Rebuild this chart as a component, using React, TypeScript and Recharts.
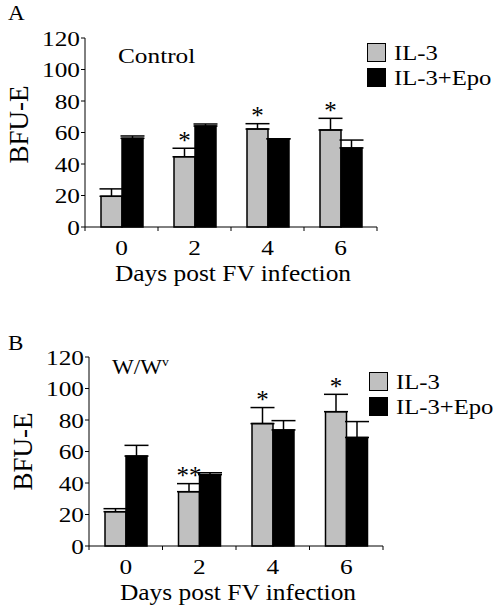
import React from 'react';
import { BarChart, Bar, XAxis, YAxis, ErrorBar, LabelList, Legend } from 'recharts';

const days = ['0', '2', '4', '6'];
const yTicks = [0, 20, 40, 60, 80, 100, 120];

// panel A - control mice
const il3A = [19.5, 44.6, 62.2, 61.6];
const il3ErrA = [4.7, 5.4, 3.4, 7.4];
const epoA = [56.3, 64.1, 56.0, 50.2];
const epoErrA = [1.5, 1.3, 0, 5.0];
const starsA = ['', '*', '*', '*'];

// panel B - W/Wv mice
const il3B = [21.8, 34.5, 77.7, 85.3];
const il3ErrB = [1.9, 5.1, 10.2, 11.0];
const epoB = [57.1, 45.3, 73.7, 68.9];
const epoErrB = [6.8, 1.2, 5.9, 10.1];
const starsB = ['', '**', '*', '*'];

const FONT = "'Liberation Serif', 'Times New Roman', serif";
const GREY = '#c0c0c0';

const build = (il3: number[], il3Err: number[], epo: number[], epoErr: number[], stars: string[]) =>
  days.map((d, i) => ({
    day: d,
    il3: il3[i],
    il3Err: [0, il3Err[i]],
    epo: epo[i],
    epoErr: [0, epoErr[i]],
    star: stars[i],
  }));

const dataA = build(il3A, il3ErrA, epoA, epoErrA, starsA);
const dataB = build(il3B, il3ErrB, epoB, epoErrB, starsB);

const SText: React.FC<any> = ({ x, y, size = 22, sx = 1.15, anchor = 'middle', children }) => (
  <g transform={`translate(${x},${y}) scale(${sx},1)`}>
    <text x={0} y={0} textAnchor={anchor} fontSize={size} fontFamily={FONT} fill="#000">
      {children}
    </text>
  </g>
);

const DayTick: React.FC<any> = ({ x, y, payload, index, visibleTicksCount }) => {
  const half = payload && payload.offset ? payload.offset : 36;
  const last = index === visibleTicksCount - 1;
  return (
    <g>
      <line x1={x - half} x2={x - half} y1={y} y2={y + 4} stroke="#000" />
      {last && <line x1={x + half} x2={x + half} y1={y} y2={y + 4} stroke="#000" />}
      <SText x={x} y={y + 28}>{payload.value}</SText>
    </g>
  );
};

const CountTick: React.FC<any> = ({ x, y, payload }) => (
  <SText x={x} y={y + 7.5} anchor="end">{payload.value}</SText>
);

// significance stars sit just above the IL-3 error bar cap
const starLabel = (rows: any[]) => (props: any) => {
  const vb = props.viewBox || props;
  const row = rows[props.index];
  if (!row || !row.star) return null;
  const ppu = Math.abs(vb.height) / row.il3;
  const capY = vb.y - row.il3Err[1] * ppu;
  return (
    <SText x={vb.x + vb.width / 2} y={capY + 0.5} size={25} sx={1}>
      {row.star}
    </SText>
  );
};

const LegendBox: React.FC<any> = ({ payload }) => (
  <div style={{ fontFamily: FONT }}>
    {(payload || []).map((p: any) => (
      <div key={p.value} style={{ display: 'flex', alignItems: 'center', height: 25 }}>
        <span
          style={{
            display: 'inline-block',
            width: 17,
            height: 17,
            background: p.color,
            border: '1.5px solid #000',
          }}
        />
        <span
          style={{
            display: 'inline-block',
            marginLeft: 8,
            fontSize: 22,
            lineHeight: '25px',
            whiteSpace: 'nowrap',
            transform: 'scaleX(1.12)',
            transformOrigin: 'left center',
          }}
        >
          {p.value}
        </span>
      </div>
    ))}
  </div>
);

interface PanelProps {
  data: any[];
  top: number;
  height: number;
  marginTop: number;
  yWidth: number;
  right: number;
  xHeight: number;
  legendTop: number;
  legendLeft: number;
  labelShift: number;
}

const Panel: React.FC<PanelProps> = ({ data, top, height, marginTop, yWidth, right, xHeight, legendTop, legendLeft, labelShift }) => (
  <div style={{ position: 'absolute', left: 0, top, width: 500, height }}>
    <BarChart width={500} height={height} data={data} barGap={0} margin={{ top: marginTop, right, bottom: 0, left: 0 }}>
      <XAxis
        dataKey="day"
        height={xHeight}
        axisLine={{ stroke: '#000' }}
        tickLine={false}
        tickSize={0}
        tickMargin={0}
        tick={<DayTick />}
        interval={0}
        label={(p: any) => {
          const vb = p.viewBox;
          return (
            <SText x={vb.x + vb.width / 2 + 2} y={vb.y + 54} size={24} sx={1.06}>
              Days post FV infection
            </SText>
          );
        }}
      />
      <YAxis
        width={yWidth}
        domain={[0, 120]}
        ticks={yTicks}
        interval={0}
        axisLine={{ stroke: '#000' }}
        tickLine={{ stroke: '#000' }}
        tickSize={4}
        tickMargin={1}
        tick={<CountTick />}
        label={(p: any) => {
          const vb = p.viewBox;
          const bx = vb.x + vb.width - 57;
          const cy = vb.y + vb.height / 2 + labelShift;
          return (
            <text x={bx} y={cy} transform={`rotate(-90, ${bx}, ${cy})`} textAnchor="middle" fontSize={27} fontFamily={FONT} fill="#000">
              BFU-E
            </text>
          );
        }}
      />
      <Legend
        layout="vertical"
        align="center"
        verticalAlign="middle"
        wrapperStyle={{ top: legendTop, left: legendLeft, width: 'auto' }}
        content={<LegendBox />}
      />
      <Bar dataKey="il3" name="IL-3" fill={GREY} stroke="#000" strokeWidth={1.5} barSize={21} isAnimationActive={false}>
        <ErrorBar dataKey="il3Err" width={12} stroke="#000" strokeWidth={1.5} direction="y" />
        <LabelList dataKey="star" content={starLabel(data)} />
      </Bar>
      <Bar dataKey="epo" name="IL-3+Epo" fill="#000" stroke="#000" strokeWidth={1.5} barSize={21} isAnimationActive={false}>
        <ErrorBar dataKey="epoErr" width={12} stroke="#000" strokeWidth={1.5} direction="y" />
      </Bar>
    </BarChart>
  </div>
);

export default function App() {
  return (
    <div style={{ position: 'absolute', left: 0, top: 0, width: 500, height: 605, background: '#fff' }}>
      <Panel data={dataA} top={0} height={300} marginTop={38} yWidth={85} right={123} xHeight={73} legendTop={39.5} legendLeft={367} labelShift={-8} />
      <Panel data={dataB} top={310} height={295} marginTop={47} yWidth={89} right={117} xHeight={59} legendTop={58.5} legendLeft={369} labelShift={0} />
      <svg width={500} height={605} style={{ position: 'absolute', left: 0, top: 0, pointerEvents: 'none' }}>
        <SText x={8} y={20} anchor="start" sx={1.05}>A</SText>
        <SText x={8} y={350} anchor="start" sx={1.05}>B</SText>
        <SText x={118} y={63} anchor="start" sx={1.15}>Control</SText>
        <g transform="translate(112,374) scale(1.05,1)">
          <text x={0} y={0} fontSize={22} fontFamily={FONT} fill="#000">
            W/W<tspan dy={-8} fontSize={13}>v</tspan>
          </text>
        </g>
      </svg>
    </div>
  );
}
